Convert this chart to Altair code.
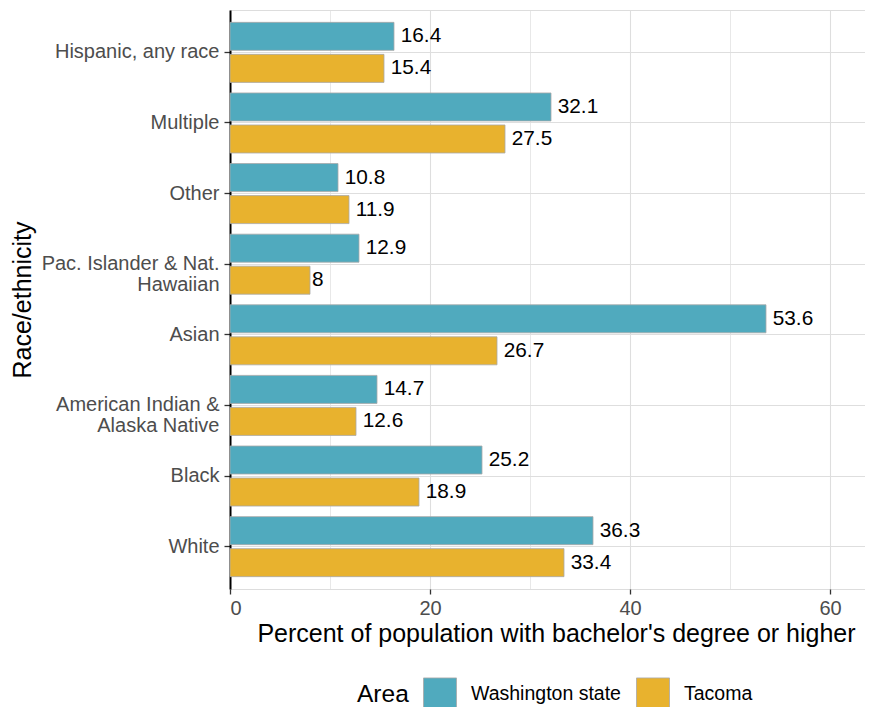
import altair as alt
import pandas as pd

categories = ["Hispanic, any race", "Multiple", "Other", "Pac. Islander & Nat.\nHawaiian",
              "Asian", "American Indian &\nAlaska Native", "Black", "White"]
areas = ["Washington state", "Tacoma"]
washington = [16.4, 32.1, 10.8, 12.9, 53.6, 14.7, 25.2, 36.3]
tacoma = [15.4, 27.5, 11.9, 8, 26.7, 12.6, 18.9, 33.4]
colors = ["#50AABE", "#E8B22E"]

rows = []
for c, w, t in zip(categories, washington, tacoma):
    rows.append({"cat": c, "area": areas[0], "value": w, "label": f"{w:g}"})
    rows.append({"cat": c, "area": areas[1], "value": t, "label": f"{t:g}"})
df = pd.DataFrame(rows)

FONT = "Liberation Sans"
GRID = "#DEDEDE"
TITLE_SIZE = 25
LABEL_SIZE = 20

y_enc = alt.Y("cat:N", sort=categories,
              scale=alt.Scale(paddingInner=0.15, paddingOuter=0.175),
              axis=alt.Axis(title="Race/ethnicity", labelExpr="split(datum.label, '\\n')",
                            labelFontSize=LABEL_SIZE, labelColor="#4D4D4D", labelPadding=5,
                            labelLineHeight=21, labelFont=FONT, labelLimit=300,
                            domain=True, domainColor="black", domainWidth=2,
                            ticks=True, tickColor="#333333", tickSize=6, tickWidth=1.3,
                            grid=True, gridColor=GRID, gridWidth=1,
                            titleFontSize=TITLE_SIZE, titleFont=FONT, titleColor="black",
                            titleFontWeight="normal", titleX=-208, titleBaseline="middle"))
yoff = alt.YOffset("area:N", sort=areas, scale=alt.Scale(paddingInner=0.125, paddingOuter=0))

x_enc = alt.X("value:Q", scale=alt.Scale(domain=[0, 63.5], nice=False, zero=True),
              axis=alt.Axis(title="Percent of population with bachelor's degree or higher",
                            values=[0, 10, 20, 30, 40, 50, 60],
                            labelExpr="datum.value % 20 == 0 ? datum.label : ''",
                            labelFontSize=LABEL_SIZE, labelColor="#4D4D4D", labelFont=FONT,
                            labelPadding=4, domain=False,
                            tickSize=5, tickWidth=1.3,
                            tickColor={"condition": {"test": "datum.value % 20 == 0", "value": "#333333"},
                                       "value": "transparent"},
                            grid=True, gridColor=GRID,
                            gridWidth={"condition": {"test": "datum.value % 20 == 0", "value": 1.1},
                                       "value": 0.7},
                            titleFontSize=TITLE_SIZE, titleFont=FONT, titleColor="black",
                            titleFontWeight="normal", titleBaseline="alphabetic",
                            titleY=52, titleX=326))

bars = alt.Chart(df).mark_bar(stroke="#A8A8A8", strokeWidth=0.8).encode(
    y=y_enc, yOffset=yoff, x=x_enc,
    color=alt.Color("area:N", sort=areas,
                    scale=alt.Scale(domain=areas, range=colors),
                    legend=alt.Legend(title="Area", orient="none", legendX=127, legendY=667,
                                      direction="horizontal", titleOrient="left",
                                      titleFontSize=24.5, titleFont=FONT, titleColor="black",
                                      titleFontWeight="normal", titlePadding=14,
                                      titleBaseline="middle",
                                      labelFontSize=19.5, labelFont=FONT, labelColor="black",
                                      labelOffset=14, columnPadding=13, labelLimit=300,
                                      symbolType="square", symbolSize=1089,
                                      symbolStrokeColor="#A8A8A8", symbolStrokeWidth=0.8,
                                      symbolOpacity=1, padding=0)),
)

texts = alt.Chart(df).transform_calculate(
    lx="datum.value + 0.02*(9.6*length(replace(datum.label, '.', '')) + (indexof(datum.label, '.') >= 0 ? 4.8 : 0))"
).mark_text(align="left", baseline="middle", fontSize=20.8, font=FONT, color="black").encode(
    y=alt.Y("cat:N", sort=categories), yOffset=alt.YOffset("area:N", sort=areas),
    x=alt.X("lx:Q"), text="label:N"
)

chart = alt.layer(bars, texts).properties(
    width=635, height=579,
    autosize=alt.AutoSizeParams(type="none"),
    padding={"left": 222, "top": 2, "right": 0, "bottom": 118},
).configure_view(stroke=None).configure(font=FONT)

chart.save("out.html", embed_options={"renderer": "svg", "actions": False})
